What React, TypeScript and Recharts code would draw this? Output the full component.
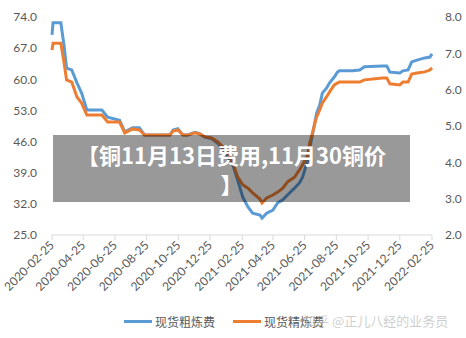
import React from 'react';
import { LineChart, Line, XAxis, YAxis } from 'recharts';

const dates = [
  '2020-02-25', '2020-02-27', '2020-03-13', '2020-03-19', '2020-03-24', '2020-04-03', '2020-04-13', '2020-04-22', '2020-05-02', '2020-05-31',
  '2020-06-11', '2020-07-04', '2020-07-14', '2020-07-29', '2020-08-11', '2020-08-21', '2020-10-09', '2020-10-15', '2020-10-24', '2020-11-03',
  '2020-11-12', '2020-11-26', '2020-12-05', '2020-12-15', '2020-12-28', '2021-01-09', '2021-01-19', '2021-01-28', '2021-02-07', '2021-02-16',
  '2021-02-26', '2021-03-08', '2021-03-17', '2021-03-31', '2021-04-04', '2021-04-13', '2021-04-25', '2021-05-04', '2021-05-14', '2021-05-23',
  '2021-06-06', '2021-06-15', '2021-06-21', '2021-07-01', '2021-07-04', '2021-07-10', '2021-07-18', '2021-07-24', '2021-07-29', '2021-08-06',
  '2021-08-12', '2021-08-21', '2021-08-27', '2021-08-31', '2021-09-25', '2021-10-09', '2021-10-18', '2021-11-22', '2021-11-30', '2021-12-06',
  '2021-12-25', '2021-12-31', '2022-01-10', '2022-01-17', '2022-01-27', '2022-02-11', '2022-02-21', '2022-02-25',
];

// 现货粗炼费 (left axis)
const roughFee = [
  70.0, 72.7, 72.7, 67.7, 62.5, 62.1, 59.2, 56.9, 53.1, 53.1,
  51.5, 50.8, 48.2, 49.1, 49.1, 47.5, 47.5, 48.6, 48.9, 47.5,
  47.5, 48.1, 47.8, 47.0, 46.7, 45.6, 44.2, 42.5, 40.7, 37.4,
  33.5, 31.3, 29.9, 29.5, 28.8, 29.9, 30.6, 32.2, 32.9, 34.0,
  35.6, 36.7, 38.0, 41.9, 44.1, 47.5, 52.4, 54.2, 56.9, 58.0,
  59.2, 60.5, 61.6, 61.9, 61.9, 62.1, 62.8, 63.0, 63.0, 61.6,
  61.4, 61.9, 62.1, 63.9, 64.3, 64.8, 65.0, 65.7,
];

// 现货精炼费 (right axis)
const refineFee = [
  7.09, 7.28, 7.28, 6.76, 6.27, 6.21, 5.80, 5.63, 5.30, 5.30,
  5.11, 5.11, 4.81, 4.92, 4.89, 4.75, 4.75, 4.86, 4.89, 4.75,
  4.75, 4.81, 4.78, 4.70, 4.67, 4.56, 4.42, 4.26, 3.98, 3.60,
  3.38, 3.29, 3.16, 2.99, 2.88, 3.02, 3.10, 3.18, 3.29, 3.46,
  3.60, 3.79, 3.93, 4.20, 4.48, 4.81, 5.25, 5.44, 5.63, 5.80,
  5.94, 6.13, 6.18, 6.21, 6.21, 6.21, 6.27, 6.32, 6.32, 6.16,
  6.13, 6.21, 6.21, 6.43, 6.46, 6.49, 6.54, 6.60,
];

const tickDates = [
  '2020-02-25', '2020-04-25', '2020-06-25', '2020-08-25', '2020-10-25', '2020-12-25', '2021-02-25',
  '2021-04-25', '2021-06-25', '2021-08-25', '2021-10-25', '2021-12-25', '2022-02-25',
];
const leftTicks = [25, 32, 39, 46, 53, 60, 67, 74];
const rightTicks = [2, 3, 4, 5, 6, 7, 8];
const seriesNames = ['现货粗炼费', '现货精炼费'];
const titleLines = ['【铜11月13日费用,11月30铜价', '】'];
const watermark = '知乎 @正儿八经的业务员';

const BLUE = '#5b9bd5';
const ORANGE = '#ed7d31';
const TEXT = '#595959';
const FONT = 'Lato, "Noto Sans CJK SC", sans-serif';

const base = Date.parse(dates[0]);
const dayOf = (d: string) => Math.round((Date.parse(d) - base) / 86400000);
const labelByDay: Record<number, string> = {};
tickDates.forEach((d) => { labelByDay[dayOf(d)] = d; });

const data = dates.map((d, i) => ({ t: dayOf(d), rough: roughFee[i], refine: refineFee[i] }));

const XTick = (props: any) => {
  const { x, y, payload } = props;
  return (
    <g transform={`translate(${x + 3},${y + 4})`}>
      <text x={0} y={0} textAnchor="end" transform="rotate(-45)" fill={TEXT} fontSize={12} fontFamily={FONT}>
        {labelByDay[payload.value]}
      </text>
    </g>
  );
};

export default function App() {
  return (
    <div style={{ position: 'absolute', left: 0, top: 0, width: 466, height: 338, background: '#fff', overflow: 'hidden' }}>
      <LineChart width={466} height={338} data={data} margin={{ top: 17, right: 0, bottom: 23, left: 0 }}>
        <XAxis
          dataKey="t"
          type="number"
          domain={[0, dayOf(tickDates[tickDates.length - 1])]}
          ticks={tickDates.map(dayOf)}
          tick={<XTick />}
          height={80}
          interval={0}
          stroke="#d9d9d9"
          tickSize={5}
          tickLine={{ stroke: '#d9d9d9' }}
          axisLine={{ stroke: '#d9d9d9' }}
        />
        <YAxis
          yAxisId="left"
          orientation="left"
          width={52}
          domain={[25, 74]}
          ticks={leftTicks}
          tickFormatter={(v: number) => v.toFixed(1)}
          axisLine={false}
          tickLine={false}
          tickMargin={9}
          tick={{ fill: TEXT, fontSize: 12, fontFamily: FONT }}
        />
        <YAxis
          yAxisId="right"
          orientation="right"
          width={34}
          domain={[2, 8]}
          ticks={rightTicks}
          tickFormatter={(v: number) => v.toFixed(1)}
          axisLine={false}
          tickLine={false}
          tickMargin={7}
          tick={{ fill: TEXT, fontSize: 12, fontFamily: FONT, textAnchor: 'start' }}
        />
        <Line yAxisId="left" dataKey="rough" name={seriesNames[0]} stroke={BLUE} strokeWidth={3} dot={false} isAnimationActive={false} type="linear" />
        <Line yAxisId="right" dataKey="refine" name={seriesNames[1]} stroke={ORANGE} strokeWidth={3} dot={false} isAnimationActive={false} type="linear" />
      </LineChart>

      <div style={{ position: 'absolute', left: 124, top: 312, height: 18, display: 'flex', alignItems: 'center', fontFamily: '"Noto Sans CJK SC", sans-serif', fontSize: 12, color: TEXT, whiteSpace: 'nowrap' }}>
        <span style={{ display: 'inline-block', width: 28, height: 3, background: BLUE, marginRight: 3 }} />
        <span>{seriesNames[0]}</span>
        <span style={{ display: 'inline-block', width: 28, height: 3, background: ORANGE, marginLeft: 18, marginRight: 3 }} />
        <span>{seriesNames[1]}</span>
      </div>
      <div style={{ position: 'absolute', left: 303, top: 311, fontFamily: '"Noto Sans CJK SC", sans-serif', fontSize: 13, color: 'rgba(190,190,190,0.75)', whiteSpace: 'nowrap' }}>
        {watermark}
      </div>

      <div style={{ position: 'absolute', left: 53, top: 135, width: 357, height: 67, background: 'rgba(0,0,0,0.4)', display: 'flex', flexDirection: 'column', justifyContent: 'center', alignItems: 'center', fontFamily: '"Noto Sans CJK SC", sans-serif', fontWeight: 700, fontSize: 22, lineHeight: '29px', color: '#fff' }}>
        {titleLines.map((l, i) => <div key={i}>{l}</div>)}
      </div>
    </div>
  );
}
